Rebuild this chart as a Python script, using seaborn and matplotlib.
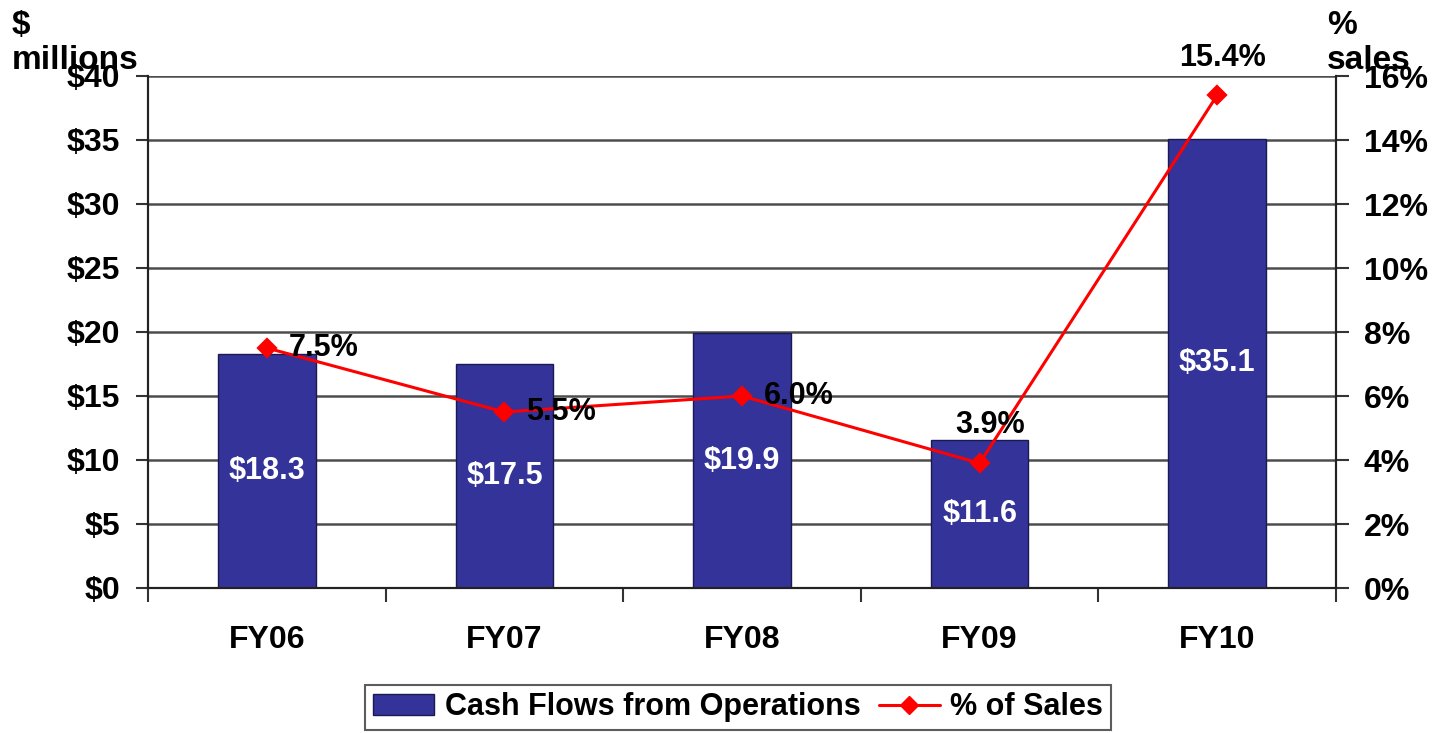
import matplotlib
matplotlib.use("Agg")
import matplotlib.pyplot as plt
import seaborn as sns
import numpy as np
import pandas as pd
from matplotlib.patches import Patch
from matplotlib.lines import Line2D

# ---- data ----
years = ["FY06", "FY07", "FY08", "FY09", "FY10"]
cash = [18.3, 17.5, 19.9, 11.6, 35.1]
cash_labels = ["$18.3", "$17.5", "$19.9", "$11.6", "$35.1"]
pct = [7.5, 5.5, 6.0, 3.9, 15.4]
pct_labels = ["7.5%", "5.5%", "6.0%", "3.9%", "15.4%"]
left_ticks = [0, 5, 10, 15, 20, 25, 30, 35, 40]
right_ticks = [0, 2, 4, 6, 8, 10, 12, 14, 16]

sns.set_theme(style="white")
plt.rcParams['font.family'] = ['Liberation Sans', 'DejaVu Sans']
plt.rcParams['font.weight'] = 'bold'
plt.rcParams['text.color'] = 'black'
plt.rcParams['xtick.color'] = 'black'
plt.rcParams['ytick.color'] = 'black'
plt.rcParams['axes.labelcolor'] = 'black'

BAR = "#333399"
df = pd.DataFrame({"year": years, "cash": cash, "pct": pct})

fig = plt.figure(figsize=(14.47, 7.33), dpi=100)
ax = fig.add_axes([148/1447, 1-588/733, (1336-148)/1447, (588-76)/733])

sns.barplot(data=df, x="year", y="cash", ax=ax, color=BAR, saturation=1,
            width=0.41, edgecolor="#1a1a50", linewidth=1, zorder=3)

ax2 = ax.twinx()
sns.pointplot(data=df, x="year", y="pct", ax=ax2, color="#ff0000", markers="D",
              markersize=9, linewidth=2.2)

ax.set_xlim(-0.5, 4.5)
ax.set_ylim(0, 40)
ax2.set_ylim(0, 16)

TICK_FS = 23

# left axis
ax.set_yticks(left_ticks)
ax.set_yticklabels(["\\$%d" % v for v in left_ticks])
ax.yaxis.grid(True, color="#4d4d4d", lw=1.8, zorder=0)
ax.set_axisbelow(True)
ax.tick_params(axis="y", which="major", length=9, width=1.5, color="#333333",
               labelcolor="black", direction="out", pad=11, labelsize=TICK_FS, left=True)
ax.set_xticks(range(len(years)))
ax.set_xticklabels(years)
ax.set_xticks(np.arange(-0.5, len(years), 1.0), minor=True)
ax.tick_params(axis="x", which="major", length=0, pad=27, labelsize=TICK_FS,
               labelcolor="black")
ax.tick_params(axis="x", which="minor", length=10, width=1.5, color="#333333",
               direction="out", bottom=True)
ax.set_xlabel("")
ax.set_ylabel("")
for lab in ax.get_xticklabels() + ax.get_yticklabels():
    lab.set_fontweight("bold")

# right axis
ax2.set_yticks(right_ticks)
ax2.set_yticklabels(["%d%%" % v for v in right_ticks])
ax2.tick_params(axis="y", length=9, width=1.5, color="#333333", direction="out",
                labelcolor="black", pad=11, labelsize=TICK_FS, right=True)
ax2.set_ylabel("")
ax2.set_xlabel("")
for lab in ax2.get_yticklabels():
    lab.set_fontweight("bold")

for a in (ax, ax2):
    a.spines["top"].set_visible(False)
    for s in ("left", "right", "bottom"):
        a.spines[s].set_color("#222222")
        a.spines[s].set_linewidth(1.5)

# bar value labels (centered in the bar)
for i, (v, t) in enumerate(zip(cash, cash_labels)):
    ax.text(i, v / 2, t.replace("$", "\\$"), ha="center", va="center",
            color="white", fontsize=22, fontweight="bold", zorder=5)

# percent labels
offsets = [(22, 0, "left", "center"), (22, 0, "left", "center"),
           (22, 0, "left", "center"), (10, 38, "center", "center"),
           (5, 37, "center", "center")]
for i, (v, t) in enumerate(zip(pct, pct_labels)):
    dx, dy, ha, va = offsets[i]
    ax2.annotate(t, (i, v), xytext=(dx * 0.72, dy * 0.72), textcoords="offset points",
                 ha=ha, va=va, fontsize=22, fontweight="bold", color="black",
                 annotation_clip=False, zorder=6)

# axis titles
fig.text(12/1447, 1-10/733, "\\$\nmillions", ha="left", va="top", fontsize=24,
         fontweight="bold", linespacing=1.15, color="black")
fig.text(1327/1447, 1-10/733, "%\nsales", ha="left", va="top", fontsize=24,
         fontweight="bold", linespacing=1.15, color="black")

# legend
handles = [Patch(facecolor=BAR, edgecolor="#1a1a50", linewidth=1),
           Line2D([0], [0], color="#ff0000", lw=2.2, marker="D", markersize=9)]
leg = fig.legend(handles, ["Cash Flows from Operations", "% of Sales"],
                 loc="lower center", bbox_to_anchor=(738/1447, 0.0), ncol=2,
                 frameon=True, fancybox=False, edgecolor="#333333",
                 prop={"size": 22, "weight": "bold"}, handlelength=2.0,
                 columnspacing=0.6, handletextpad=0.35, borderpad=0.25,
                 borderaxespad=0.1, labelcolor="black")
leg.get_frame().set_linewidth(1.5)

fig.savefig("out.png", dpi=100)
